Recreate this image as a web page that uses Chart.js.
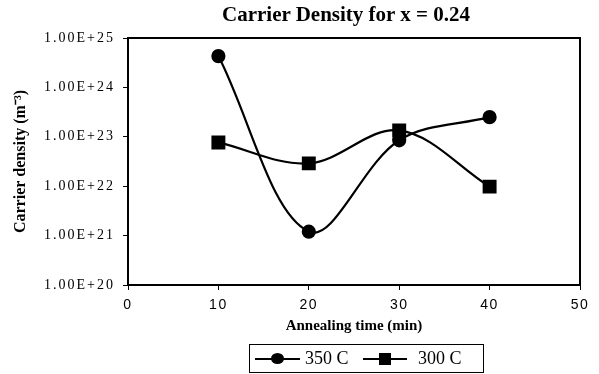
<!DOCTYPE html>
<html>
<head>
<meta charset="utf-8">
<script src="https://cdn.jsdelivr.net/npm/chart.js@4"></script>
<style>
  html, body { margin: 0; padding: 0; background: #fff; }
  #quadro { position: relative; width: 599px; height: 374px; overflow: hidden; }
  #titulo { position: absolute; left: 146px; width: 400px; top: 4px; text-align: center;
            font: bold 21px "Liberation Serif"; line-height: 21px; color: #000; }
  #legenda { position: absolute; left: 249px; top: 344px; width: 235px; height: 29px;
             border: 1px solid #000; box-sizing: border-box; font: 18px "Liberation Serif"; color: #000; }
  .linha { position: absolute; top: 13px; height: 2px; background: #000; }
  .bola { position: absolute; width: 13px; height: 11px; border-radius: 50%; background: #000; }
  .quadrado { position: absolute; width: 12px; height: 12px; background: #000; }
  .texto { position: absolute; top: 0; line-height: 27px; white-space: nowrap; }
</style>
</head>
<body>
<div id="quadro">
  <canvas id="grafico" width="599" height="374"></canvas>
  <div id="titulo">Carrier Density for x = 0.24</div>
  <div id="legenda">
    <div class="linha" style="left:5px; width:45px;"></div>
    <div class="bola" style="left:21px; top:8px;"></div>
    <div class="texto" style="left:55px;">350 C</div>
    <div class="linha" style="left:113px; width:44px;"></div>
    <div class="quadrado" style="left:129px; top:8px;"></div>
    <div class="texto" style="left:168px;">300 C</div>
  </div>
</div>
<script>
// Dados
const temposRecozimento = [10, 20, 30, 40];
const densidade350 = [4.3e24, 1.2e21, 8.5e22, 2.5e23];
const densidade300 = [7.7e22, 2.9e22, 1.35e23, 9.8e21];
const ticksX = [0, 10, 20, 30, 40, 50];
const ticksY = [1e20, 1e21, 1e22, 1e23, 1e24, 1e25];

const pontos = (xs, ys) => xs.map((x, i) => ({ x: x, y: ys[i] }));

// Moldura preta em volta da área do gráfico
const moldura = {
  id: 'moldura',
  beforeDatasetsDraw(chart) {
    const { ctx, chartArea: a } = chart;
    ctx.save();
    ctx.strokeStyle = '#000';
    ctx.lineWidth = 2;
    ctx.strokeRect(a.left, a.top, a.right - a.left, a.bottom - a.top);
    ctx.restore();
  }
};

// Rótulos dos eixos com letras espaçadas
const espacamento = {
  id: 'espacamento',
  afterLayout(chart) {
    ['x', 'y'].forEach(id => {
      const s = chart.scales[id];
      if (!s || s._espacado) return;
      const original = s.drawLabels.bind(s);
      s.drawLabels = (area) => {
        chart.ctx.save();
        chart.ctx.letterSpacing = id === 'y' ? '2px' : '1.5px';
        original(area);
        chart.ctx.restore();
      };
      s._espacado = true;
    });
  }
};

new Chart(document.getElementById('grafico'), {
  type: 'line',
  data: {
    datasets: [
      {
        label: '350 C',
        data: pontos(temposRecozimento, densidade350),
        borderColor: '#000', backgroundColor: '#000', borderWidth: 2.2,
        pointStyle: 'circle', pointRadius: 6, tension: 0.35
      },
      {
        label: '300 C',
        data: pontos(temposRecozimento, densidade300),
        borderColor: '#000', backgroundColor: '#000', borderWidth: 2.2,
        pointStyle: 'rect', pointRadius: 8.3, tension: 0.35
      }
    ]
  },
  options: {
    responsive: false,
    animation: false,
    layout: { padding: { top: 38, right: 19, bottom: 29, left: 0 } },
    plugins: {
      legend: { display: false },
      title: { display: false },
      tooltip: { enabled: false }
    },
    scales: {
      x: {
        type: 'linear', min: 0, max: 50,
        afterBuildTicks: s => { s.ticks = ticksX.map(v => ({ value: v })); },
        afterFit: s => { s.height = 60; s.paddingLeft = 0; s.paddingRight = 0; },
        grid: { drawOnChartArea: false, drawTicks: true, tickLength: 5, color: '#000', lineWidth: 1 },
        border: { display: false },
        ticks: { color: '#000', font: { family: 'Liberation Sans', size: 14 }, padding: 7, maxRotation: 0 },
        title: {
          display: true, text: 'Annealing time (min)', color: '#000',
          font: { family: 'Liberation Serif', size: 15, weight: 'bold' },
          padding: { top: 0, bottom: 10 }
        }
      },
      y: {
        type: 'logarithmic', min: 1e20, max: 1e25,
        afterBuildTicks: s => { s.ticks = ticksY.map(v => ({ value: v })); },
        afterFit: s => { s.width = 128; s.paddingTop = 0; s.paddingBottom = 0; },
        grid: { drawOnChartArea: false, drawTicks: true, tickLength: 5, color: '#000', lineWidth: 1 },
        border: { display: false },
        ticks: {
          color: '#000', font: { family: 'Liberation Serif', size: 14 }, padding: 8,
          callback: v => Number(v).toExponential(2).toUpperCase()
        },
        title: {
          display: true, text: 'Carrier density (m⁻³)', color: '#000',
          font: { family: 'Liberation Serif', size: 16, weight: 'bold' },
          padding: { top: 11, bottom: 0 }
        }
      }
    }
  },
  plugins: [moldura, espacamento]
});
</script>
</body>
</html>
